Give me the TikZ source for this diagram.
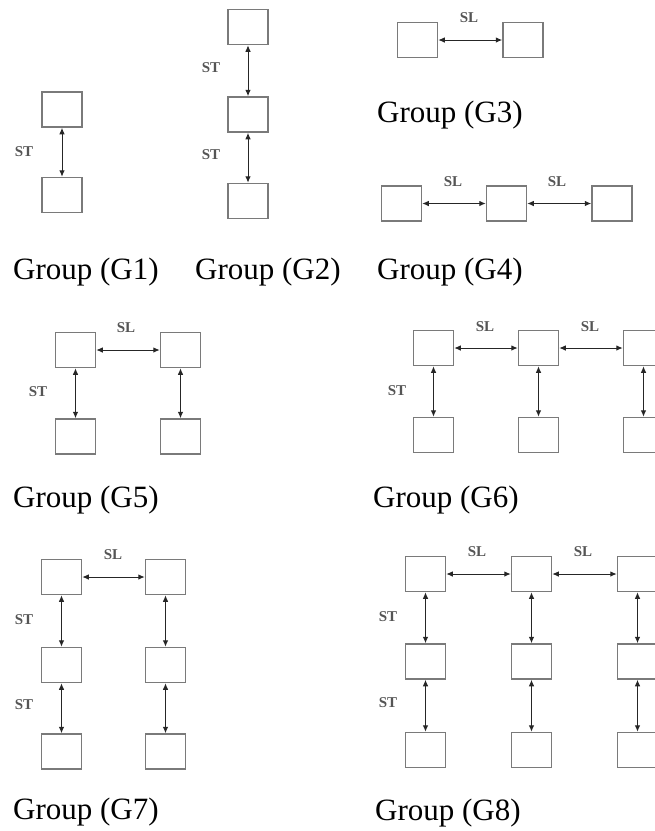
\documentclass[tikz,border=0pt]{standalone}
\usepackage{fontspec}
\setmainfont{Liberation Serif}
\usetikzlibrary{arrows.meta}
\definecolor{boxgray}{HTML}{7A7A7A}
\definecolor{lblgray}{HTML}{555555}
\definecolor{linkcol}{HTML}{262626}
\begin{document}
\begin{tikzpicture}[x=1pt,y=-1pt,
  bx/.style={draw=boxgray,line width=1.5pt,fill=white,minimum width=40pt,minimum height=35pt,inner sep=0pt},
  link/.style={draw=linkcol,line width=1pt,{Latex[length=6.5pt,width=5.5pt]}-{Latex[length=6.5pt,width=5.5pt]}},
  lbl/.style={text=lblgray,font=\fontsize{15}{15}\selectfont\bfseries,inner sep=0pt},
  grp/.style={anchor=west,inner sep=0pt,font=\fontsize{31}{34}\selectfont}]
\useasboundingbox (0,0) rectangle (655,831);
\clip (0,0) rectangle (655,831);

% G1: two stacked cells
\node[bx] (g1a) at (62,109.5) {};
\node[bx] (g1b) at (62,195) {};
\draw[link] (g1a) -- (g1b);
\node[lbl] (g1st) at (24,152) {ST};
\node[grp] (g1t) at (13,272) {Group (G1)};

% G2: three stacked cells
\node[bx] (g2a) at (248,27) {};
\node[bx] (g2b) at (248,114.5) {};
\node[bx] (g2c) at (248,201) {};
\draw[link] (g2a) -- (g2b);
\draw[link] (g2b) -- (g2c);
\node[lbl] (g2st1) at (211,68) {ST};
\node[lbl] (g2st2) at (211,155) {ST};
\node[grp] (g2t) at (195,272) {Group (G2)};

% G3: two cells side by side
\node[bx] (g3a) at (417.5,40) {};
\node[bx] (g3b) at (523,40) {};
\draw[link] (g3a) -- (g3b);
\node[lbl] (g3sl) at (469,18) {SL};
\node[grp] (g3t) at (377,115) {Group (G3)};

% G4: three cells side by side
\node[bx] (g4a) at (401.5,203.5) {};
\node[bx] (g4b) at (506.5,203.5) {};
\node[bx] (g4c) at (612,203.5) {};
\draw[link] (g4a) -- (g4b);
\draw[link] (g4b) -- (g4c);
\node[lbl] (g4sl1) at (453,182) {SL};
\node[lbl] (g4sl2) at (557,182) {SL};
\node[grp] (g4t) at (377,272) {Group (G4)};

% G5: 2 x 2
\node[bx] (g5a) at (75.5,350) {};
\node[bx] (g5b) at (180.5,350) {};
\node[bx] (g5c) at (75.5,436.5) {};
\node[bx] (g5d) at (180.5,436.5) {};
\draw[link] (g5a) -- (g5b);
\draw[link] (g5a) -- (g5c);
\draw[link] (g5b) -- (g5d);
\node[lbl] (g5sl) at (126,328) {SL};
\node[lbl] (g5st) at (38,392) {ST};
\node[grp] (g5t) at (13,500) {Group (G5)};

% G6: 3 columns x 2 rows
\node[bx] (g6a) at (433.5,348) {};
\node[bx] (g6b) at (538.5,348) {};
\node[bx] (g6c) at (643.5,348) {};
\node[bx] (g6d) at (433.5,435) {};
\node[bx] (g6e) at (538.5,435) {};
\node[bx] (g6f) at (643.5,435) {};
\draw[link] (g6a) -- (g6b);
\draw[link] (g6b) -- (g6c);
\draw[link] (g6a) -- (g6d);
\draw[link] (g6b) -- (g6e);
\draw[link] (g6c) -- (g6f);
\node[lbl] (g6sl1) at (485,327) {SL};
\node[lbl] (g6sl2) at (590,327) {SL};
\node[lbl] (g6st) at (397,391) {ST};
\node[grp] (g6t) at (373,500) {Group (G6)};

% G7: 2 columns x 3 rows
\node[bx] (g7a) at (61.5,577) {};
\node[bx] (g7b) at (165.5,577) {};
\node[bx] (g7c) at (61.5,665) {};
\node[bx] (g7d) at (165.5,665) {};
\node[bx] (g7e) at (61.5,751.5) {};
\node[bx] (g7f) at (165.5,751.5) {};
\draw[link] (g7a) -- (g7b);
\draw[link] (g7a) -- (g7c);
\draw[link] (g7c) -- (g7e);
\draw[link] (g7b) -- (g7d);
\draw[link] (g7d) -- (g7f);
\node[lbl] (g7sl) at (113,555) {SL};
\node[lbl] (g7st1) at (24,620) {ST};
\node[lbl] (g7st2) at (24,705) {ST};
\node[grp] (g7t) at (13,812) {Group (G7)};

% G8: 3 columns x 3 rows
\node[bx] (g8a) at (425.5,574) {};
\node[bx] (g8b) at (531.5,574) {};
\node[bx] (g8c) at (637.5,574) {};
\node[bx] (g8d) at (425.5,661.5) {};
\node[bx] (g8e) at (531.5,661.5) {};
\node[bx] (g8f) at (637.5,661.5) {};
\node[bx] (g8g) at (425.5,750) {};
\node[bx] (g8h) at (531.5,750) {};
\node[bx] (g8i) at (637.5,750) {};
\draw[link] (g8a) -- (g8b);
\draw[link] (g8b) -- (g8c);
\draw[link] (g8a) -- (g8d);
\draw[link] (g8d) -- (g8g);
\draw[link] (g8b) -- (g8e);
\draw[link] (g8e) -- (g8h);
\draw[link] (g8c) -- (g8f);
\draw[link] (g8f) -- (g8i);
\node[lbl] (g8sl1) at (477,552) {SL};
\node[lbl] (g8sl2) at (583,552) {SL};
\node[lbl] (g8st1) at (388,617) {ST};
\node[lbl] (g8st2) at (388,703) {ST};
\node[grp] (g8t) at (375,813) {Group (G8)};
\end{tikzpicture}
\end{document}
